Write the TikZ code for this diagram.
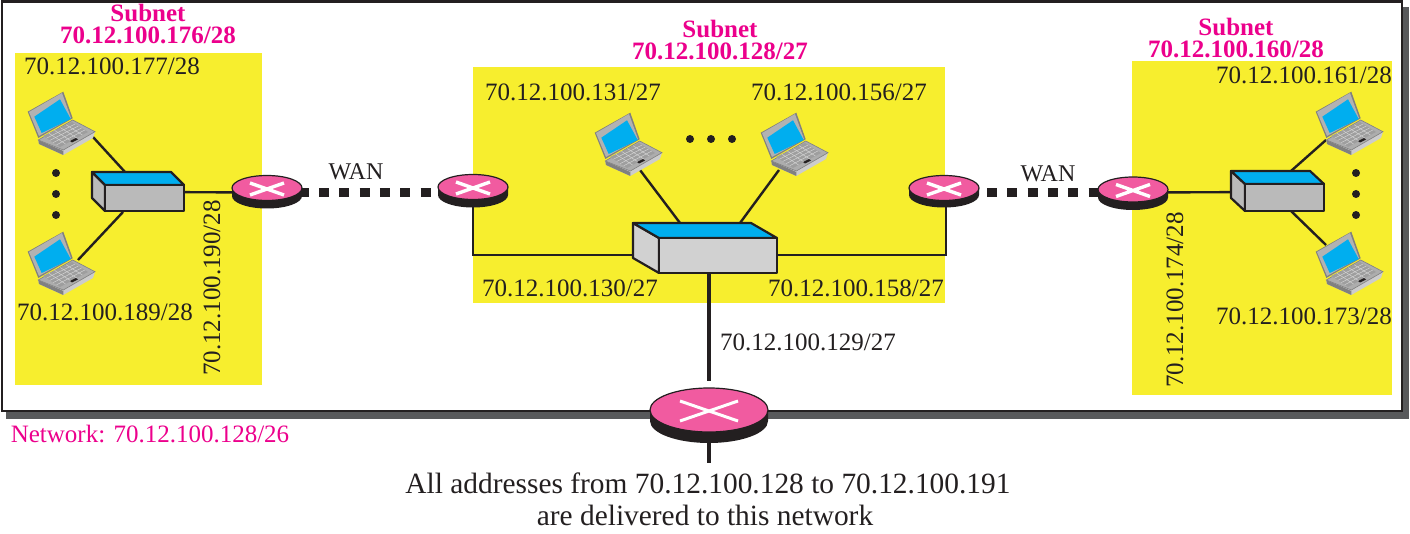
\documentclass[tikz,border=0pt]{standalone}
\usepackage{fontspec}
\setmainfont{Liberation Serif}
\definecolor{ylw}{HTML}{F7EE2E}
\definecolor{pinkfill}{HTML}{F15BA0}
\definecolor{pinktxt}{HTML}{EC008C}
\definecolor{blu}{HTML}{00AEEF}
\definecolor{shadowc}{HTML}{58595B}
\definecolor{ink}{HTML}{231F20}
\tikzset{
  lbl/.style={font=\fontsize{25}{25}\selectfont,text=ink,inner sep=0pt,anchor=center},
  sublbl/.style={font=\fontsize{25}{22}\selectfont\bfseries,text=pinktxt,inner sep=0pt,anchor=center,align=center},
  wanlbl/.style={font=\fontsize{24}{24}\selectfont,text=ink,inner sep=0pt,anchor=center},
  bigtxt/.style={font=\fontsize{29.4}{29.4}\selectfont,text=ink,inner sep=0pt,anchor=center},
  zone/.style={fill=ylw,draw=none},
  wire/.style={draw=ink,line width=2.4pt},
  fatwire/.style={draw=ink,line width=4pt},
  wanlink/.style={draw=ink,line width=8.5pt,dash pattern=on 10pt off 10.3pt},
  dotmark/.style={circle,fill=ink,inner sep=0pt,minimum size=8pt,draw=none},
  laptop/.pic={
    \fill[black!20] (38.3,140)--(72.7,120)--(95,131.7)--(93,138)--(63.3,155)--(39,144)--cycle;
    \fill[black!50] (38.3,140)--(63.3,151)--(63.3,155)--(39,144)--cycle;
    \fill[black!32,draw=black!50,line width=.6pt] (38.3,140)--(72.7,120)--(95,131.7)--(63.3,150)--cycle;
    \fill[black!50] (27.7,111.7)--(63.3,91.7)--(72.7,118.3)--(38.3,138)--cycle;
    \fill[black!30] (29,112)--(62,93)--(71,118)--(39,136)--cycle;
    \fill[blu] (34.3,116.7)--(60,99.3)--(70.7,119)--(41.7,133)--cycle;
    \fill[black!38] (43,136)--(72,122)--(88,132)--(60,147)--cycle;
    \foreach \t in {0.2,0.4,0.6,0.8}{
      \draw[black!16,line width=.45pt] ({43+\t*29},{136-\t*14})--({60+\t*28},{147-\t*15});
      \draw[black!16,line width=.45pt] ({43+\t*17},{136+\t*11})--({72+\t*16},{122+\t*10});
    }
    \fill[ink] (70,141)--(76,138)--(78,139.5)--(72,142.5)--cycle;
  }
}
\newcommand{\routerbody}[8]{% cx, cy(pink), rx, ry, t, crossx, crossy, cross width
  \fill[ink] (#1-#3,#2) -- (#1-#3,#2+#5) arc[start angle=180,end angle=360,x radius=#3,y radius=-#4] -- (#1+#3,#2) -- cycle;
  \filldraw[fill=pinkfill,draw=ink,line width=1.2pt] (#1,#2) ellipse[x radius=#3,y radius=#4];
  \draw[white,line width=#8pt] (#1-#6,#2-#7+1)--(#1+#6,#2+#7+1) (#1-#6,#2+#7+1)--(#1+#6,#2-#7+1);
}
\newcommand{\switchbody}[7]{% x,y back-left top, dx,dy depth, w front, h, fill
  \filldraw[fill=#7,draw=ink,line width=2.2pt,line join=round] (#1,#2)--(#1+#3,#2+#4)--(#1+#3,#2+#4+#6)--(#1,#2+#6)--cycle;
  \filldraw[fill=blu,draw=ink,line width=2.2pt,line join=round] (#1,#2)--(#1+#5,#2)--(#1+#3+#5,#2+#4)--(#1+#3,#2+#4)--cycle;
  \filldraw[fill=#7,draw=ink,line width=2.2pt,line join=round] (#1+#3,#2+#4) rectangle ++(#5,#6);
}
\begin{document}
\begin{tikzpicture}[x=1pt,y=-1pt]
\useasboundingbox (0,0) rectangle (1410,534);
% frame
\fill[shadowc] (6,7) rectangle (1409,419);
\filldraw[fill=white,draw=ink,line width=2.6pt] (2,1.5) rectangle (1402,411);
% zones
\fill[zone] (15,53) rectangle (262,385);
\fill[zone] (473,67) rectangle (945,303);
\fill[zone] (1132,61) rectangle (1392,395);
% anchors of the devices
\coordinate (r1) at (267,192.5);
\coordinate (r2) at (473,192.5);
\coordinate (r3) at (946,192.5);
\coordinate (r4) at (1133,192.5);
\coordinate (rb) at (709,416);
\coordinate (sw1) at (138,192);
\coordinate (sw2) at (705,255);
\coordinate (sw3) at (1278,192);
\coordinate (sw2top1) at (680,223);
\coordinate (sw2top2) at (740,223);
\coordinate (sw2bot) at (709,273);
\coordinate (rbstub) at (709,381);
\coordinate (rbtail) at (709,463);
\coordinate (sw1top) at (125,172);
\coordinate (sw1bot) at (123,212);
\coordinate (sw3top) at (1291,171);
\coordinate (sw3bot) at (1291,211);
\coordinate (p1) at (93,137);
\coordinate (p2) at (78,260);
\coordinate (p3) at (640,170);
\coordinate (p4) at (779,170);
\coordinate (p5) at (1326,140);
\coordinate (p6) at (1326,245);
% connectors
\draw[wire] (p1)--(sw1top);
\draw[wire] (p2)--(sw1bot);
\draw[wire] (p3)--(sw2top1);
\draw[wire] (p4)--(sw2top2);
\draw[wire] (p5)--(sw3top);
\draw[wire] (p6)--(sw3bot);
\draw[wire] (sw1)--(r1);
\draw[wire] (r2)|-(sw2);
\draw[wire] (r3)|-(sw2);
\draw[wire] (r4)--(sw3);
\draw[fatwire] (sw2bot)--(rbstub);
\draw[fatwire] (rb)--(rbtail);
\draw[wanlink,dash phase=8.9pt] (r1)--(r2);
\draw[wanlink,dash phase=19.9pt] (r3)--(r4);
% laptops
\pic at (0,0) {laptop};
\pic at (0,140) {laptop};
\pic at (567,21) {laptop};
\pic at (733,21) {laptop};
\pic at (1288,0) {laptop};
\pic at (1288,140) {laptop};
% switches
\switchbody{92}{172}{13}{13}{79}{26}{black!27}
\switchbody{633}{223}{26}{15}{118}{35}{black!18}
\switchbody{1231}{171}{14}{13}{79}{27}{black!27}
% routers
\routerbody{267}{188}{35}{12.5}{8}{17}{6}{3.4}
\routerbody{473}{187}{35}{12.5}{8}{17}{6}{3.4}
\routerbody{944}{188}{35}{12.5}{7}{17}{6}{3.4}
\routerbody{1133}{189.5}{35}{12.5}{8}{17}{6}{3.4}
\routerbody{709}{410}{59}{22}{11}{29}{10}{3}
% dots
\node[dotmark] (d1) at (56,173) {};
\node[dotmark] (d2) at (56,194) {};
\node[dotmark] (d3) at (56,215) {};
\node[dotmark] (d4) at (690,139) {};
\node[dotmark] (d5) at (711,139) {};
\node[dotmark] (d6) at (732,139) {};
\node[dotmark] (d7) at (1356,173) {};
\node[dotmark] (d8) at (1356,194) {};
\node[dotmark] (d9) at (1356,215) {};
% labels
\node[sublbl] (s1) at (148,24) {Subnet\\70.12.100.176/28};
\node[sublbl] (s2) at (720,40) {Subnet\\70.12.100.128/27};
\node[sublbl] (s3) at (1236,38) {Subnet\\70.12.100.160/28};
\node[lbl] (a1) at (112,66) {70.12.100.177/28};
\node[lbl] (a2) at (105,312) {70.12.100.189/28};
\node[lbl,rotate=90] (a3) at (212,288) {70.12.100.190/28};
\node[lbl] (a4) at (573,92) {70.12.100.131/27};
\node[lbl] (a5) at (839,92) {70.12.100.156/27};
\node[lbl] (a6) at (570,288) {70.12.100.130/27};
\node[lbl] (a7) at (856,288) {70.12.100.158/27};
\node[lbl] (a8) at (808,342) {70.12.100.129/27};
\node[lbl] (a9) at (1304,75) {70.12.100.161/28};
\node[lbl] (a10) at (1304,316) {70.12.100.173/28};
\node[lbl,rotate=90] (a11) at (1175,300) {70.12.100.174/28};
\node[wanlbl] (w1) at (356,172) {WAN};
\node[wanlbl] (w2) at (1048,174) {WAN};
\node[lbl,text=pinktxt] (net) at (150,434) {Network: 70.12.100.128/26};
\node[bigtxt] (b1) at (708,483) {All addresses from 70.12.100.128 to 70.12.100.191};
\node[bigtxt] (b2) at (705,515) {are delivered to this network};
\end{tikzpicture}
\end{document}
